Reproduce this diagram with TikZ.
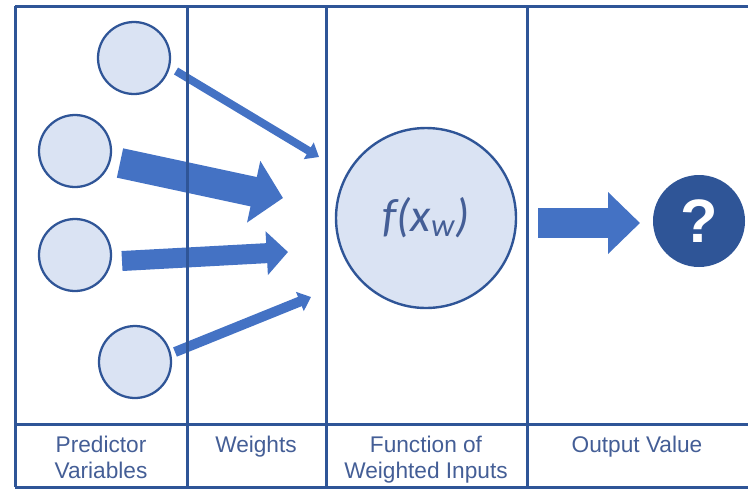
\documentclass[tikz,border=0pt]{standalone}
\usepackage{fontspec}
\setmainfont{Liberation Sans}
\newfontfamily\calibrifont{Carlito}
\usepackage{tikz}
\usetikzlibrary{arrows.meta,positioning}
\usepackage{xcolor}
\definecolor{gridcol}{RGB}{47,85,151}
\definecolor{arrowcol}{RGB}{68,114,196}
\definecolor{nodefill}{RGB}{218,227,243}
\definecolor{labelcol}{RGB}{68,94,150}
\tikzset{
  grid/.style={draw=gridcol,line width=2.25pt},
  inputnode/.style={circle,draw=gridcol,line width=1.7pt,fill=nodefill,
                    minimum size=54pt,inner sep=0pt},
  funcnode/.style={circle,draw=gridcol,line width=1.8pt,fill=nodefill,
                   minimum size=135pt,inner sep=0pt,text=labelcol,
                   font=\calibrifont\itshape\fontsize{35}{40}\selectfont},
  outnode/.style={circle,fill=gridcol,minimum size=69pt,inner sep=0pt,text=white,
                  font=\bfseries\fontsize{46}{50}\selectfont},
  weight/.style={draw=arrowcol,line width=#1},
  caption/.style={text=labelcol,align=center,anchor=north,
                  font=\fontsize{17}{20}\selectfont},
}

\begin{document}
\begin{tikzpicture}[x=0.75pt,y=-0.75pt]
  \useasboundingbox (0,0) rectangle (748,490);
  % predictor variables
  \node[inputnode] (p1) at (134,58) {};
  \node[inputnode] (p2) at (75,151) {};
  \node[inputnode] (p3) at (75,255) {};
  \node[inputnode] (p4) at (135,362) {};
  \node[funcnode] (fx) at (426,218) {f(x\textsubscript{w})};
  \node[outnode] (out) at (699,221) {?};
  % weighted arrows
  \coordinate (w1s) at (176,71);  \coordinate (w1e) at (319,157);
  \coordinate (w2s) at (120,163); \coordinate (w2e) at (283,198);
  \coordinate (w3s) at (122,261); \coordinate (w3e) at (288,252);
  \coordinate (w4s) at (175,352); \coordinate (w4e) at (311,297);
  \coordinate (os)  at (538,223); \coordinate (oe)  at (640,223);
  \draw[weight=6pt,-{Triangle[length=9pt,width=14pt]}] (w1s) -- (w1e);
  \draw[weight=22.5pt,-{Triangle[length=22.5pt,width=46pt]}] (w2s) -- (w2e);
  \draw[weight=15pt,-{Triangle[length=16pt,width=32pt]}] (w3s) -- (w3e);
  \draw[weight=7.5pt,-{Triangle[length=9pt,width=15pt]}] (w4s) -- (w4e);
  \draw[weight=22.5pt,-{Triangle[length=24pt,width=45pt]}] (os) -- (oe);
  % table
  \foreach \y in {6,424,487}{\draw[grid] (15,\y) -- (748,\y);}
  \foreach \x in {15,187,326,527}{\draw[grid] (\x,6) -- (\x,487);}
  \node[caption] (c1) at (101,431) {Predictor\\Variables};
  \node[caption] (c2) at (256,431) {Weights};
  \node[caption] (c3) at (426,431) {Function of\\Weighted Inputs};
  \node[caption] (c4) at (637,431) {Output Value};
\end{tikzpicture}
\end{document}
